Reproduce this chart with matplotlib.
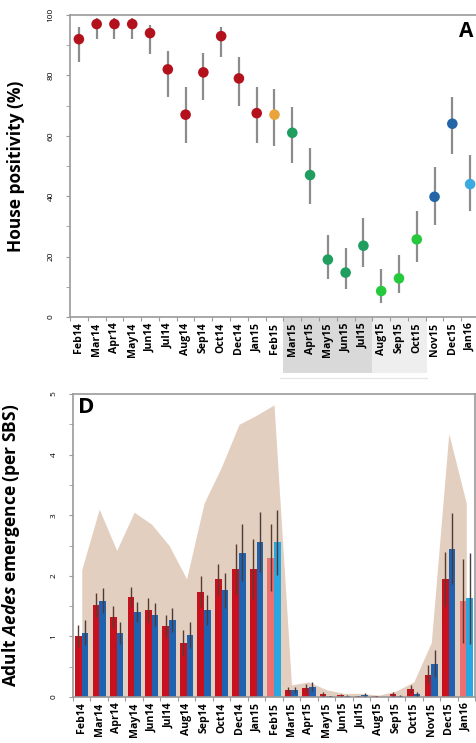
import matplotlib
matplotlib.use("Agg")
import matplotlib.pyplot as plt
import matplotlib.transforms as mtransforms
from matplotlib.patches import Rectangle
import numpy as np

# ---- data -----------------------------------------------------------------
months = ["Feb14", "Mar14", "Apr14", "May14", "Jun14", "Jul14", "Aug14", "Sep14",
          "Oct14", "Dec14", "Jan15", "Feb15", "Mar15", "Apr15", "May15", "Jun15",
          "Jul15", "Aug15", "Sep15", "Oct15", "Nov15", "Dec15", "Jan16"]

# panel A: house positivity (%) with CI
positivity = [92, 97, 97, 97, 94, 82, 67, 81, 93, 79, 67.5, 67, 61, 47, 19, 14.7,
              23.6, 8.6, 12.8, 25.7, 39.8, 64, 44]
positivity_hi = [96, 99, 99, 99, 96.7, 88, 76, 87.5, 96, 86, 76, 75.5, 69.6, 56, 27,
                 22.8, 32.7, 16, 20.5, 35, 49.8, 73, 53.6]
positivity_lo = [84.5, 92, 92, 92, 87, 73, 57.6, 72, 86, 70, 57.5, 56.6, 51, 37.4,
                 12.5, 9.2, 16.6, 4.5, 7.8, 18.3, 30.5, 54, 35]

# panel D: adult Aedes emergence per SBS (two series) and envelope
emergence_red = [1.01, 1.52, 1.32, 1.65, 1.44, 1.17, 0.89, 1.74, 1.94, 2.11, 2.11,
                 2.30, 0.12, 0.15, 0.05, 0.03, 0.01, 0.01, 0.05, 0.13, 0.37, 1.95, 1.58]
err_red = [0.18, 0.20, 0.18, 0.17, 0.20, 0.19, 0.21, 0.26, 0.26, 0.41, 0.49, 0.55,
           0.05, 0.07, 0.03, 0.02, 0.01, 0.01, 0.03, 0.07, 0.16, 0.45, 0.69]
emergence_blue = [1.06, 1.59, 1.06, 1.40, 1.36, 1.27, 1.02, 1.44, 1.76, 2.38, 2.56,
                  2.55, 0.12, 0.17, 0.01, 0.02, 0.04, 0.00, 0.02, 0.05, 0.55, 2.45, 1.63]
err_blue = [0.21, 0.21, 0.18, 0.17, 0.19, 0.20, 0.21, 0.25, 0.29, 0.47, 0.50, 0.53,
            0.05, 0.07, 0.01, 0.01, 0.02, 0.00, 0.01, 0.03, 0.22, 0.59, 0.75]
envelope = [2.1, 3.1, 2.42, 3.05, 2.85, 2.5, 1.95, 3.2, 3.8, 4.5, 4.65, 4.82, 0.2,
            0.25, 0.12, 0.06, 0.06, 0.03, 0.1, 0.25, 0.9, 4.35, 3.2]

# ---- styles ---------------------------------------------------------------
DRED, ORANGE, TEAL, LGREEN, BLUE, LBLUE = ("#b3121d", "#e9a43c", "#1f9e60",
                                           "#27c93c", "#2366a8", "#3aaadf")
point_colors = [DRED] * 11 + [ORANGE] + [TEAL] * 5 + [LGREEN] * 3 + [BLUE] * 2 + [LBLUE]
red_colors = ["#c8101f"] * 23
blue_colors = ["#1f63b0"] * 23
for i in (11, 22):
    red_colors[i] = "#ee6f6f"
    blue_colors[i] = "#2aa6e0"

plt.rcParams["font.family"] = ["Open Sans", "DejaVu Sans"]
plt.rcParams["mathtext.fontset"] = "custom"
plt.rcParams["mathtext.bfit"] = "Open Sans:italic:bold"
SPINE = "#9a9a9a"

W, H = 477, 743
fig = plt.figure(figsize=(W / 100, H / 100), dpi=100)

x = np.arange(len(months))


def style_axes(ax, ymax, ystep, yminor):
    for s in ax.spines.values():
        s.set_color(SPINE)
        s.set_linewidth(1.2)
    ax.set_xlim(-0.5, len(months) - 0.5)
    ax.set_xticks(np.arange(-0.5, len(months), 1.0))
    ax.set_xticklabels([])
    ax.set_xticks(x, minor=True)
    ax.set_xticklabels(months, minor=True, rotation=90, fontsize=7.6,
                       fontweight="bold")
    ax.tick_params(axis="x", which="major", length=3, color=SPINE)
    ax.tick_params(axis="x", which="minor", length=0, pad=4)
    ax.set_ylim(0, ymax)
    ax.set_yticks(np.arange(0, ymax + 0.001, ystep))
    ax.set_yticks(np.arange(0, ymax + 0.001, yminor), minor=True)
    ax.tick_params(axis="y", which="both", length=3, color=SPINE, labelsize=6,
                   labelrotation=90, pad=8)
    for lab in ax.get_yticklabels():
        lab.set_va("center")


# ---- panel A --------------------------------------------------------------
axA = fig.add_axes([70 / W, 1 - 317 / H, 409 / W, 302 / H])
style_axes(axA, 100, 20, 10)
axA.set_yticklabels([f"{v:d}" for v in range(0, 101, 20)])
pos = np.array(positivity)
yerr = [pos - np.array(positivity_lo), np.array(positivity_hi) - pos]
axA.errorbar(x, pos, yerr=yerr, fmt="none", ecolor="#8c8c8c", elinewidth=1.6,
             capsize=0, zorder=2)
axA.scatter(x, pos, s=58, c=point_colors, edgecolors="none", zorder=3)
axA.set_ylabel("House positivity (%)", fontsize=12.5, fontweight="bold")
axA.yaxis.set_label_coords(-0.11, 0.5)
axA.text(0.968, 0.944, "A", transform=axA.transAxes, fontsize=15,
         fontweight="bold", ha="center", va="center")

# grey season bands behind the month labels
trans = mtransforms.blended_transform_factory(axA.transData, axA.transAxes)
axA.add_patch(Rectangle((11.5, -0.185), 5.0, 0.182, transform=trans,
                        color="#d9d9d9", clip_on=False, zorder=0.5, lw=0))
axA.add_patch(Rectangle((16.5, -0.185), 3.1, 0.182, transform=trans,
                        color="#eeeeee", clip_on=False, zorder=0.5, lw=0))
axA.plot([11.3, 19.6], [-0.203, -0.203], transform=trans, color="#e6e6e6",
         lw=1, clip_on=False, zorder=0.5)

# ---- panel D --------------------------------------------------------------
axD = fig.add_axes([73 / W, 1 - 697 / H, 402 / W, 303 / H])
style_axes(axD, 5, 1, 0.5)
axD.set_yticklabels([f"{v:d}" for v in range(0, 6)])
axD.fill_between(x, 0, envelope, color="#e3cfc0", lw=0, zorder=1)
bw = 0.38
axD.bar(x - 0.19, emergence_red, width=bw, color=red_colors, zorder=2)
axD.bar(x + 0.19, emergence_blue, width=bw, color=blue_colors, zorder=2)
axD.errorbar(x - 0.19, emergence_red, yerr=err_red, fmt="none", ecolor="#5b3a2e",
             elinewidth=1.0, capsize=0, zorder=3)
axD.errorbar(x + 0.19, emergence_blue, yerr=err_blue, fmt="none", ecolor="#4a3a3a",
             elinewidth=1.0, capsize=0, zorder=3)
axD.set_ylabel(r"Adult $\mathbfit{Aedes}$ emergence (per SBS)", fontsize=12.5,
               fontweight="bold")
axD.yaxis.set_label_coords(-0.127, 0.5)
axD.text(0.012, 0.99, "D", transform=axD.transAxes, fontsize=16,
         fontweight="bold", ha="left", va="top")

fig.savefig("out.png", dpi=100)
